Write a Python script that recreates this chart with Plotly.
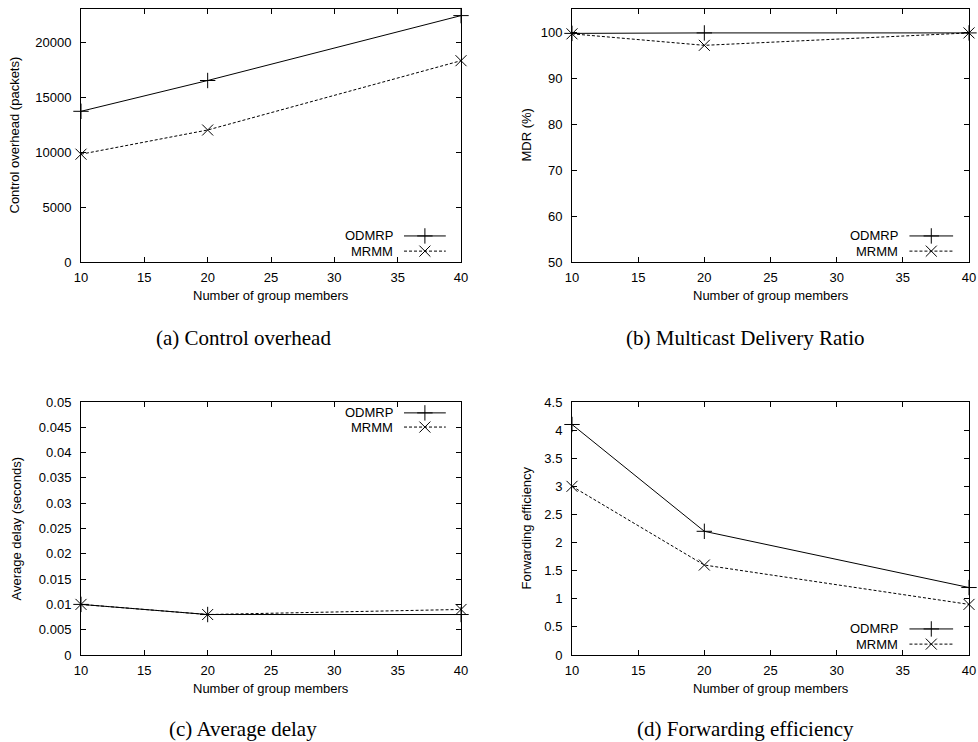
import plotly.graph_objects as go

members = [10, 20, 40]
overhead_odmrp = [13700, 16500, 22400]
overhead_mrmm = [9800, 12000, 18300]
mdr_odmrp = [99.7, 99.8, 99.8]
mdr_mrmm = [99.6, 97.1, 99.8]
delay_odmrp = [0.010, 0.008, 0.008]
delay_mrmm = [0.010, 0.008, 0.009]
fwd_odmrp = [4.1, 2.2, 1.2]
fwd_mrmm = [3.0, 1.6, 0.9]

series_names = ["ODMRP", "MRMM"]
y_titles = ["Control overhead (packets)", "MDR (%)", "Average delay (seconds)", "Forwarding efficiency"]
captions = ["(a) Control overhead", "(b) Multicast Delivery Ratio", "(c) Average delay", "(d) Forwarding efficiency"]
x_title = "Number of group members"

W, H = 978, 742
def px(x):
    return x / W
def py(y):
    return 1 - y / H

panels = [
    dict(data=(overhead_odmrp, overhead_mrmm), xd=(81, 461), yd=(9, 262), yr=[0, 23000], dt=5000, t0=0, tf="d",
         ytx=14, leg="br", cap_x=243, cap_y=338, xt_y=295),
    dict(data=(mdr_odmrp, mdr_mrmm), xd=(572, 969), yd=(9, 262), yr=[50, 105], dt=10, t0=50, tf="d",
         ytx=526, leg="br", cap_x=745, cap_y=338, xt_y=295),
    dict(data=(delay_odmrp, delay_mrmm), xd=(81, 461), yd=(402, 655), yr=[0, 0.05], dt=0.005, t0=0, tf=None,
         ytx=16, leg="tr", cap_x=243, cap_y=729, xt_y=688),
    dict(data=(fwd_odmrp, fwd_mrmm), xd=(572, 969), yd=(402, 655), yr=[0, 4.5], dt=0.5, t0=0, tf=None,
         ytx=526, leg="br", cap_x=745, cap_y=729, xt_y=688),
]

fig = go.Figure()
font = dict(family="Liberation Sans, Arial, sans-serif", size=13, color="black")
annotations = []
layout = {}

styles = [
    dict(dash="solid", symbol="cross-thin"),
    dict(dash="3px,2px", symbol="x-thin"),
]

for i, p in enumerate(panels):
    n = i + 1
    xa = f"xaxis{n}" if n > 1 else "xaxis"
    ya = f"yaxis{n}" if n > 1 else "yaxis"
    xref = f"x{n}" if n > 1 else "x"
    yref = f"y{n}" if n > 1 else "y"
    axis_common = dict(showline=True, linecolor="black", linewidth=1, mirror="allticks",
                       ticks="inside", ticklen=5, tickcolor="black", tickwidth=1,
                       showgrid=False, zeroline=False, tickfont=font, automargin=False)
    layout[xa] = dict(domain=[px(p["xd"][0]), px(p["xd"][1])], anchor=yref, range=[10, 40],
                      tick0=10, dtick=5, ticklabelstandoff=3, **axis_common)
    ya_d = dict(domain=[py(p["yd"][1]), py(p["yd"][0])], anchor=xref, range=p["yr"],
                tick0=p["t0"], dtick=p["dt"], ticklabelstandoff=6, **axis_common)
    if p["tf"]:
        ya_d["tickformat"] = p["tf"]
    layout[ya] = ya_d

    # legend overlay axes
    ln = n + 4
    lxa, lya = f"xaxis{ln}", f"yaxis{ln}"
    lxref, lyref = f"x{ln}", f"y{ln}"
    layout[lxa] = dict(overlaying=xref, range=[0, 1], visible=False, anchor=lyref, automargin=False)
    layout[lya] = dict(overlaying=yref, range=[0, 1], visible=False, anchor=lxref, automargin=False)

    for s in range(2):
        st = styles[s]
        fig.add_trace(go.Scatter(
            x=members, y=p["data"][s], xaxis=xref, yaxis=yref, mode="lines+markers",
            line=dict(color="black", width=1, dash=st["dash"]),
            marker=dict(symbol=st["symbol"], size=11, line=dict(color="black", width=1), color="black"),
            cliponaxis=False, showlegend=False, name=series_names[s]))

    if p["leg"] == "br":
        rows = [0.103, 0.043]
    else:
        rows = [0.957, 0.901]
    for s in range(2):
        st = styles[s]
        fig.add_trace(go.Scatter(
            x=[0.85, 0.905, 0.96], y=[rows[s]] * 3, xaxis=lxref, yaxis=lyref, mode="lines",
            line=dict(color="black", width=1, dash=st["dash"]), showlegend=False, hoverinfo="skip",
            cliponaxis=False))
        fig.add_trace(go.Scatter(
            x=[0.905], y=[rows[s]], xaxis=lxref, yaxis=lyref, mode="markers",
            marker=dict(symbol=st["symbol"], size=11, line=dict(color="black", width=1), color="black"),
            showlegend=False, hoverinfo="skip", cliponaxis=False))
        annotations.append(dict(x=0.826, y=rows[s], xref=lxref, yref=lyref, text=series_names[s],
                                showarrow=False, xanchor="right", yanchor="middle", font=font))

    # axis titles and captions
    annotations.append(dict(x=px(p["ytx"]), y=py((p["yd"][0] + p["yd"][1]) / 2), xref="paper", yref="paper",
                            text=y_titles[i], textangle=-90, showarrow=False, xanchor="center",
                            yanchor="middle", font=font))
    annotations.append(dict(x=px((p["xd"][0] + p["xd"][1]) / 2), y=py(p["xt_y"]), xref="paper", yref="paper",
                            text=x_title, showarrow=False, xanchor="center", yanchor="middle", font=font))
    annotations.append(dict(x=px(p["cap_x"]), y=py(p["cap_y"]), xref="paper", yref="paper",
                            text=captions[i], showarrow=False, xanchor="center", yanchor="middle",
                            font=dict(family="Liberation Serif, Times New Roman, serif", size=21, color="black")))

fig.update_layout(**layout)
fig.update_layout(width=W, height=H, margin=dict(l=0, r=0, t=0, b=0), paper_bgcolor="white",
                  plot_bgcolor="white", annotations=annotations, showlegend=False)
fig.write_html("out.html", config={"displayModeBar": False},
               post_script="document.body.style.margin='0';document.body.style.padding='0';"
                           "document.body.style.overflow='hidden';")
